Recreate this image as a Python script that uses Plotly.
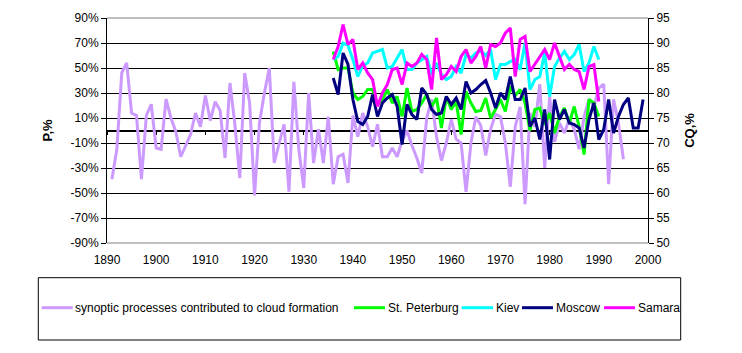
import plotly.graph_objects as go

# ---------------- data ----------------
years_p = list(range(1891, 1996))
p_synoptic = [
    -39, -15, 46, 54, 14, 12, -39, 12, 21,            # 1891-1899
    -14, -15, 25, 10, -1, -21, -12, -3, 14, 3,        # 1900-1909
    28, 8, 23, 16, -22, 38, 5, -38, 46, 22,           # 1910-1919
    -52, 6, 30, 50, -26, -10, 5, -49, 39, -15,        # 1920-1929
    -46, 30, -26, 1, -26, 11, -43, -21, -19, -42,     # 1930-1939
    12, -5, 14, 3, -13, 5, -21, -21, -14, -21,        # 1940-1949
    -8, 0, -12, -22, -34, 10, 25, -5, -24, -10,       # 1950-1959
    9, -7, -10, -49, -10, 11, 4, -20, 1, 13,          # 1960-1969
    11, -10, -45, 3, 19, -59, 14, 3, 37, -30,         # 1970-1979
    27, -9, 6, -2, 9, 1, -15, 11, 25, 19,             # 1980-1989
    34, 37, -43, 25, 6, -23,                          # 1990-1995
]

years_c = list(range(1936, 1991))
cq_stpeterburg = [
    88.3, 84.7, 85, 85, 80, 78.7, 79.3, 80.7, 80.7, 77.7,
    78.7, 80.7, 78, 79.3, 75.3, 81, 76.3, 76.7, 78, 79.7,
    77.3, 79, 73, 79.3, 76.7, 78.3, 71.7, 80.3, 78, 76.3,
    76.5, 79, 75, 76.7, 78.7, 76.3, 81.3, 79.5, 80.7, 78,
    72.5, 76.7, 77, 73.7, 76, 72, 75.3, 77, 74, 77.3,
    73.3, 67.7, 78.7, 78, 75.3,
]
cq_kiev = [
    86.7, 87.3, 90, 89.5, 86.7, 83.3, 85.5, 86, 88, 88.3,
    88.7, 85, 85.3, 87, 88.7, 84.7, 84.7, 86, 86.7, 87.3,
    83.7, 86, 83.7, 82.7, 83.3, 85.3, 84, 87.7, 87, 88,
    88.5, 87.5, 88.7, 82.7, 85.7, 85.7, 86.3, 86.7, 84.7, 90,
    80.7, 82.7, 83.3, 88, 79.3, 85.3, 87, 88.3, 86.7, 87.7,
    89.7, 84.3, 86, 89.3, 86.7,
]
cq_samara = [
    86.7, 89.3, 93.7, 89.7, 90.7, 84.7, 86, 84, 82.7, 77.3,
    80, 81.7, 84.7, 85, 81.7, 86, 85.3, 86, 87.7, 86.7,
    80.7, 91, 82.7, 83.7, 85.3, 84.3, 87.3, 88.7, 86, 87.3,
    89.3, 85, 89.7, 89.3, 90, 92, 93, 83.3, 90.7, 91.3,
    84.3, 85.7, 87.3, 88.7, 86.7, 90, 87.3, 84.7, 85.7, 84.7,
    84.3, 80.7, 85.3, 85.7, 78.3,
]
years_m = list(range(1936, 2000))
cq_moscow = [
    83, 79.7, 88, 85.7, 78.7, 74.3, 73.7, 75.3, 79.7, 75.3,
    78, 79, 79.7, 77.3, 69.7, 77.7, 75.7, 74.7, 81, 79.7,
    76.7, 75.7, 76, 79.3, 77.7, 79, 76.7, 82.3, 80, 80.7,
    81.7, 82.5, 80, 77, 80, 78.7, 83.3, 78.7, 78.7, 81,
    73.3, 75, 70.7, 76.7, 66.7, 78.7, 74.7, 76.7, 74, 73.7,
    73, 69, 74.7, 78, 70.7, 72.7, 78.7, 72, 75.3, 77.7,
    79, 73, 73, 78.7,
]

series_names = ["synoptic processes contributed to cloud formation",
                "St. Peterburg", "Kiev", "Moscow", "Samara"]
series_colors = ["#CC99FF", "#00FF00", "#00FFFF", "#000080", "#FF00FF"]

x_ticks = list(range(1890, 2001, 10))
p_ticks = list(range(-90, 91, 20))
p_ticktext = [f"{v}%" for v in p_ticks]
cq_ticks = list(range(50, 96, 5))

FONT = "Liberation Sans, Arial, sans-serif"
W, H = 742, 353
ML, MR, MT, MB = 107, 94, 18, 110
PW, PH = W - ML - MR, H - MT - MB


def px_x(px):
    return (px - ML) / PW


def px_y(py):
    return (H - MB - py) / PH


fig = go.Figure()
fig.add_trace(go.Scatter(x=years_p, y=p_synoptic, mode="lines", name=series_names[0],
                         line=dict(color=series_colors[0], width=3), yaxis="y"))
for name, col, xs, ys in [(series_names[1], series_colors[1], years_c, cq_stpeterburg),
                          (series_names[2], series_colors[2], years_c, cq_kiev),
                          (series_names[3], series_colors[3], years_m, cq_moscow),
                          (series_names[4], series_colors[4], years_c, cq_samara)]:
    fig.add_trace(go.Scatter(x=xs, y=ys, mode="lines", name=name,
                             line=dict(color=col, width=3), yaxis="y2"))

# dummy invisible trace to activate xaxis2 (zero line with decade ticks)
fig.add_trace(go.Scatter(x=[1890], y=[0], xaxis="x2", yaxis="y", mode="markers",
                         marker=dict(opacity=0), showlegend=False, hoverinfo="skip"))

# ---------- legend (drawn as a boxed row, like the original) ----------
legend_line_x = [(41.7, 72.7), (354, 385), (461.7, 493), (522, 553), (604, 635)]
legend_y = 307.7
shapes = [
    dict(type="line", xref="paper", yref="paper", x0=0, x1=1, y0=1, y1=1,
         line=dict(color="#808080", width=1)),
    dict(type="line", xref="paper", yref="paper", x0=0, x1=1, y0=0, y1=0,
         line=dict(color="#808080", width=1)),
    dict(type="rect", xref="paper", yref="paper", x0=px_x(38.3), x1=px_x(680.7),
         y0=px_y(340), y1=px_y(277.7), line=dict(color="black", width=1),
         fillcolor="rgba(0,0,0,0)"),
]
annotations = []
for (a, b), name, col in zip(legend_line_x, series_names, series_colors):
    shapes.append(dict(type="line", xref="paper", yref="paper", x0=px_x(a), x1=px_x(b),
                       y0=px_y(legend_y), y1=px_y(legend_y),
                       line=dict(color=col, width=3)))
    annotations.append(dict(xref="paper", yref="paper", x=px_x(b + 0.5), y=px_y(legend_y),
                            text=name, showarrow=False, xanchor="left", yanchor="middle",
                            font=dict(family=FONT, size=12, color="black")))

fig.update_layout(
    width=W, height=H,
    margin=dict(l=ML, r=MR, t=MT, b=MB, autoexpand=False),
    paper_bgcolor="white", plot_bgcolor="white",
    font=dict(family=FONT, size=12, color="black"),
    showlegend=False,
    xaxis=dict(range=[1890, 2000], tickvals=x_ticks, showgrid=False, zeroline=False,
               showline=False, ticks="outside", ticklen=6, tickcolor="rgba(0,0,0,0)",
               tickfont=dict(size=12)),
    xaxis2=dict(range=[1890, 2000], tickvals=x_ticks, overlaying="x", anchor="free",
                position=0.5, showline=True, linecolor="black", linewidth=2,
                ticks="outside", ticklen=3, tickcolor="black", tickwidth=1,
                showticklabels=False, showgrid=False, zeroline=False, layer="below traces"),
    yaxis=dict(range=[-90, 90], tickvals=p_ticks, ticktext=p_ticktext, showgrid=True,
               gridcolor="black", gridwidth=1, zeroline=False, showline=True,
               linecolor="black", linewidth=1, ticks="outside", ticklen=5, tickcolor="black",
               tickfont=dict(size=12),
               title=dict(text="P,%", font=dict(size=13, weight="bold"))),
    yaxis2=dict(range=[50, 95], tickvals=cq_ticks, overlaying="y", side="right",
                showgrid=False, zeroline=False, showline=True, linecolor="black", linewidth=1,
                ticks="outside", ticklen=5, tickcolor="black", tickfont=dict(size=12),
                title=dict(text="CQ,%", font=dict(size=13, weight="bold"))),
    shapes=shapes,
    annotations=annotations,
)

fig.write_html("out.html")
